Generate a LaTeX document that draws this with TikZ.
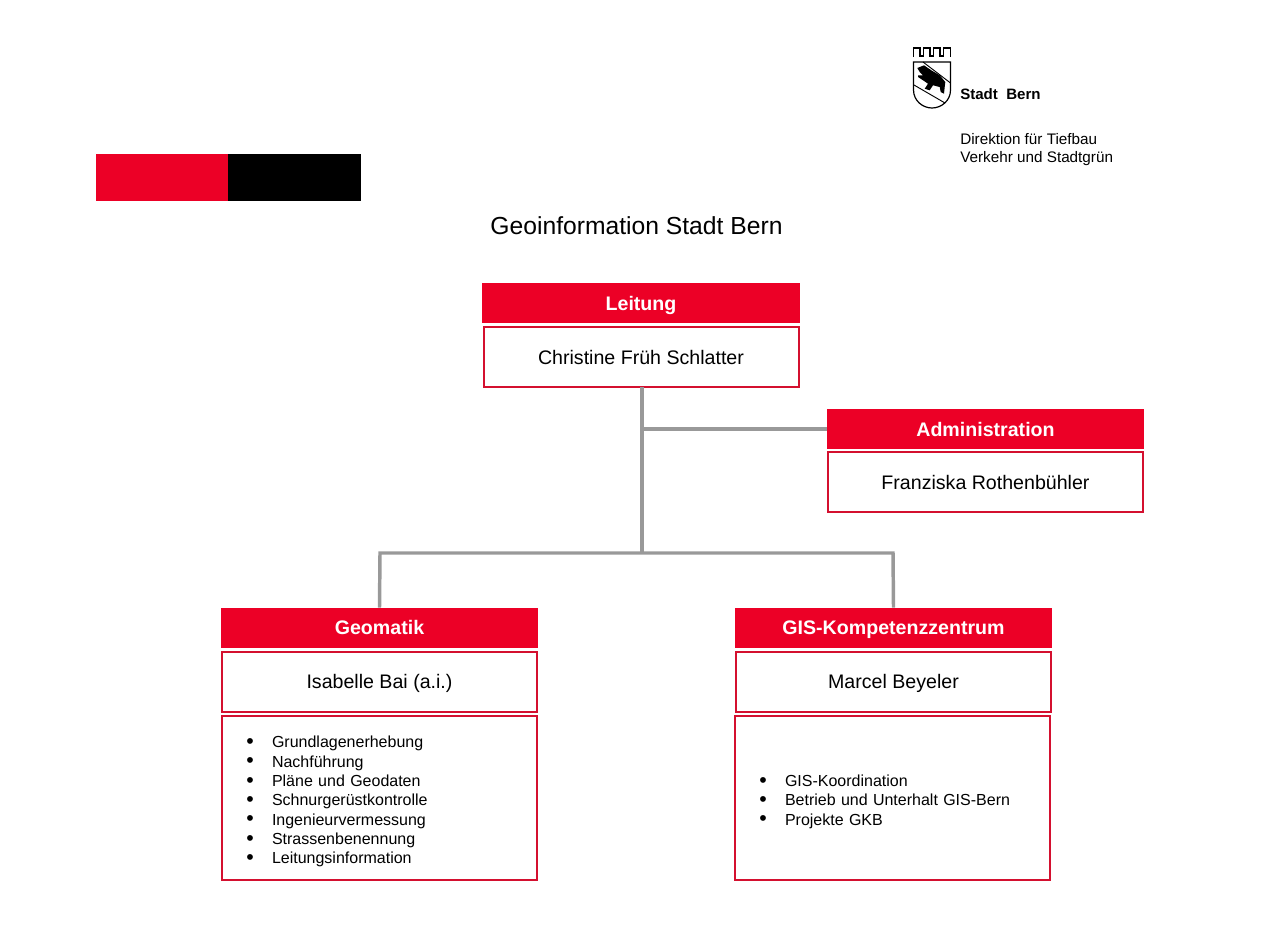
\documentclass[tikz,border=0pt]{standalone}
\usepackage{fontspec}
\setmainfont{Liberation Sans}
\usepackage{tikz}
\usetikzlibrary{positioning}
\definecolor{bernrot}{HTML}{EC0026}
\definecolor{rahmen}{HTML}{D4102F}
\definecolor{linie}{HTML}{999999}
\newcommand{\punkt}[1]{\makebox[33pt][c]{\raisebox{-0.6pt}{\fontsize{16}{14}\selectfont\textbullet}}#1}
\tikzset{
  kopf/.style={rectangle, fill=bernrot, text=white, font=\fontsize{14.7}{16}\selectfont\bfseries,
               minimum width=238pt, minimum height=30pt, text height=11pt, text depth=0.4pt,
               inner sep=0pt, outer sep=0pt},
  namebox/.style={rectangle, draw=rahmen, line width=1.5pt, fill=white, font=\fontsize{14.7}{16}\selectfont,
               minimum width=236.25pt, minimum height=45pt, text height=11pt, text depth=0.4pt,
               inner sep=0pt, outer sep=0pt},
  listbox/.style={rectangle, draw=rahmen, line width=1.5pt, fill=white, font=\fontsize{12}{14.5}\selectfont,
               align=left, text width=227.25pt, minimum height=123pt, inner xsep=4.5pt, inner ysep=0pt, outer sep=0pt,
               execute at begin node={\rule{0pt}{15pt}}},
  verb/.style={draw=linie, line width=2.6pt},
  logotext/.style={anchor=west, inner sep=0pt, font=\fontsize{11.45}{13.5}\selectfont, align=left},
}
\begin{document}
\begin{tikzpicture}[x=0.75pt, y=-0.75pt]
  \useasboundingbox (0,0) rectangle (1280,947);
  % balken
  \fill[bernrot] (96,154) rectangle (228,201);
  \fill[black] (228,154) rectangle (361,201);
  % wappen
  \draw[line width=1.2pt] (913.5,57) -- (913.5,48) -- (920,48) -- (920,56) -- (923.5,56) -- (923.5,48) -- (930,48) -- (930,56)
    -- (933.5,56) -- (933.5,48) -- (940,48) -- (940,56) -- (943.5,56) -- (943.5,48) -- (950.5,48) -- (950.5,57);
  \draw[line width=0.9pt] (913.5,62) -- (950.5,62) -- (950.5,90) .. controls (950.5,101) and (941,108) .. (932,108)
    .. controls (923,108) and (913.5,101) .. (913.5,90) -- cycle;
  \draw[line width=0.7pt] (923,62) -- (950.5,83);
  \draw[line width=0.7pt] (914,85) -- (945,103);
  \fill[black] (917.3,68) -- (924,65.3) -- (931.3,70.3) -- (939.7,75.3) -- (945.3,82) -- (944.7,87) -- (944,93.7) -- (940.7,92)
    -- (939.7,87) -- (933,85.3) -- (929.7,90.3) -- (924.7,88.7) -- (928,83.7) -- (923,80.3) -- (918,77) -- (918,75.3)
    -- (923,75.3) -- (919.7,72) -- cycle;
  \node[logotext, font=\fontsize{11.3}{13.5}\selectfont\bfseries] (stadt) at (960,94) {Stadt\ \ Bern};
  \node[logotext] (direktion) at (960,150) {Direktion für Tiefbau\\Verkehr und Stadtgrün};
  % titel
  \node[inner sep=0pt, font=\fontsize{18.5}{20}\selectfont] (titel) at (636.5,226) {Geoinformation Stadt Bern};
  % leitung
  \node[kopf] (leitung) at (641,303) {Leitung};
  \node[namebox, below=3pt of leitung] (fruh) {Christine Früh Schlatter};
  % administration
  \node[kopf] (admin) at (985.5,429) {Administration};
  \node[namebox, below=2.25pt of admin] (rothen) {Franziska Rothenbühler};
  % geomatik
  \node[kopf] (geo) at (379.5,627.5) {Geomatik};
  \node[namebox, below=3pt of geo] (bai) {Isabelle Bai (a.i.)};
  \node[listbox, below=3pt of bai] (geoliste) {\punkt{Grundlagenerhebung}\\\punkt{Nachführung}\\\punkt{Pläne und Geodaten}\\
    \punkt{Schnurgerüstkontrolle}\\\punkt{Ingenieurvermessung}\\\punkt{Strassenbenennung}\\\punkt{Leitungsinformation}};
  % gis
  \node[kopf] (gis) at (893.5,627.5) {GIS-Kompetenzzentrum};
  \node[namebox, below=3pt of gis] (beyeler) {Marcel Beyeler};
  \node[listbox, below=3pt of beyeler, xshift=-0.75pt] (gisliste) {\punkt{GIS-Koordination}\\\punkt{Betrieb und Unterhalt GIS-Bern}\\\punkt{Projekte GKB}};
  % verbindungen
  \coordinate (mitte) at (642,553);
  \coordinate (abzw) at (642,429);
  \coordinate (links) at (380,553);
  \coordinate (rechts) at (893,553);
  \draw[verb] (fruh.south -| mitte) -- (mitte);
  \draw[verb] (abzw) -- (admin.west);
  \draw[verb] (geo.north) -- (links) -- (rechts) -- (gis.north);
\end{tikzpicture}
\end{document}
